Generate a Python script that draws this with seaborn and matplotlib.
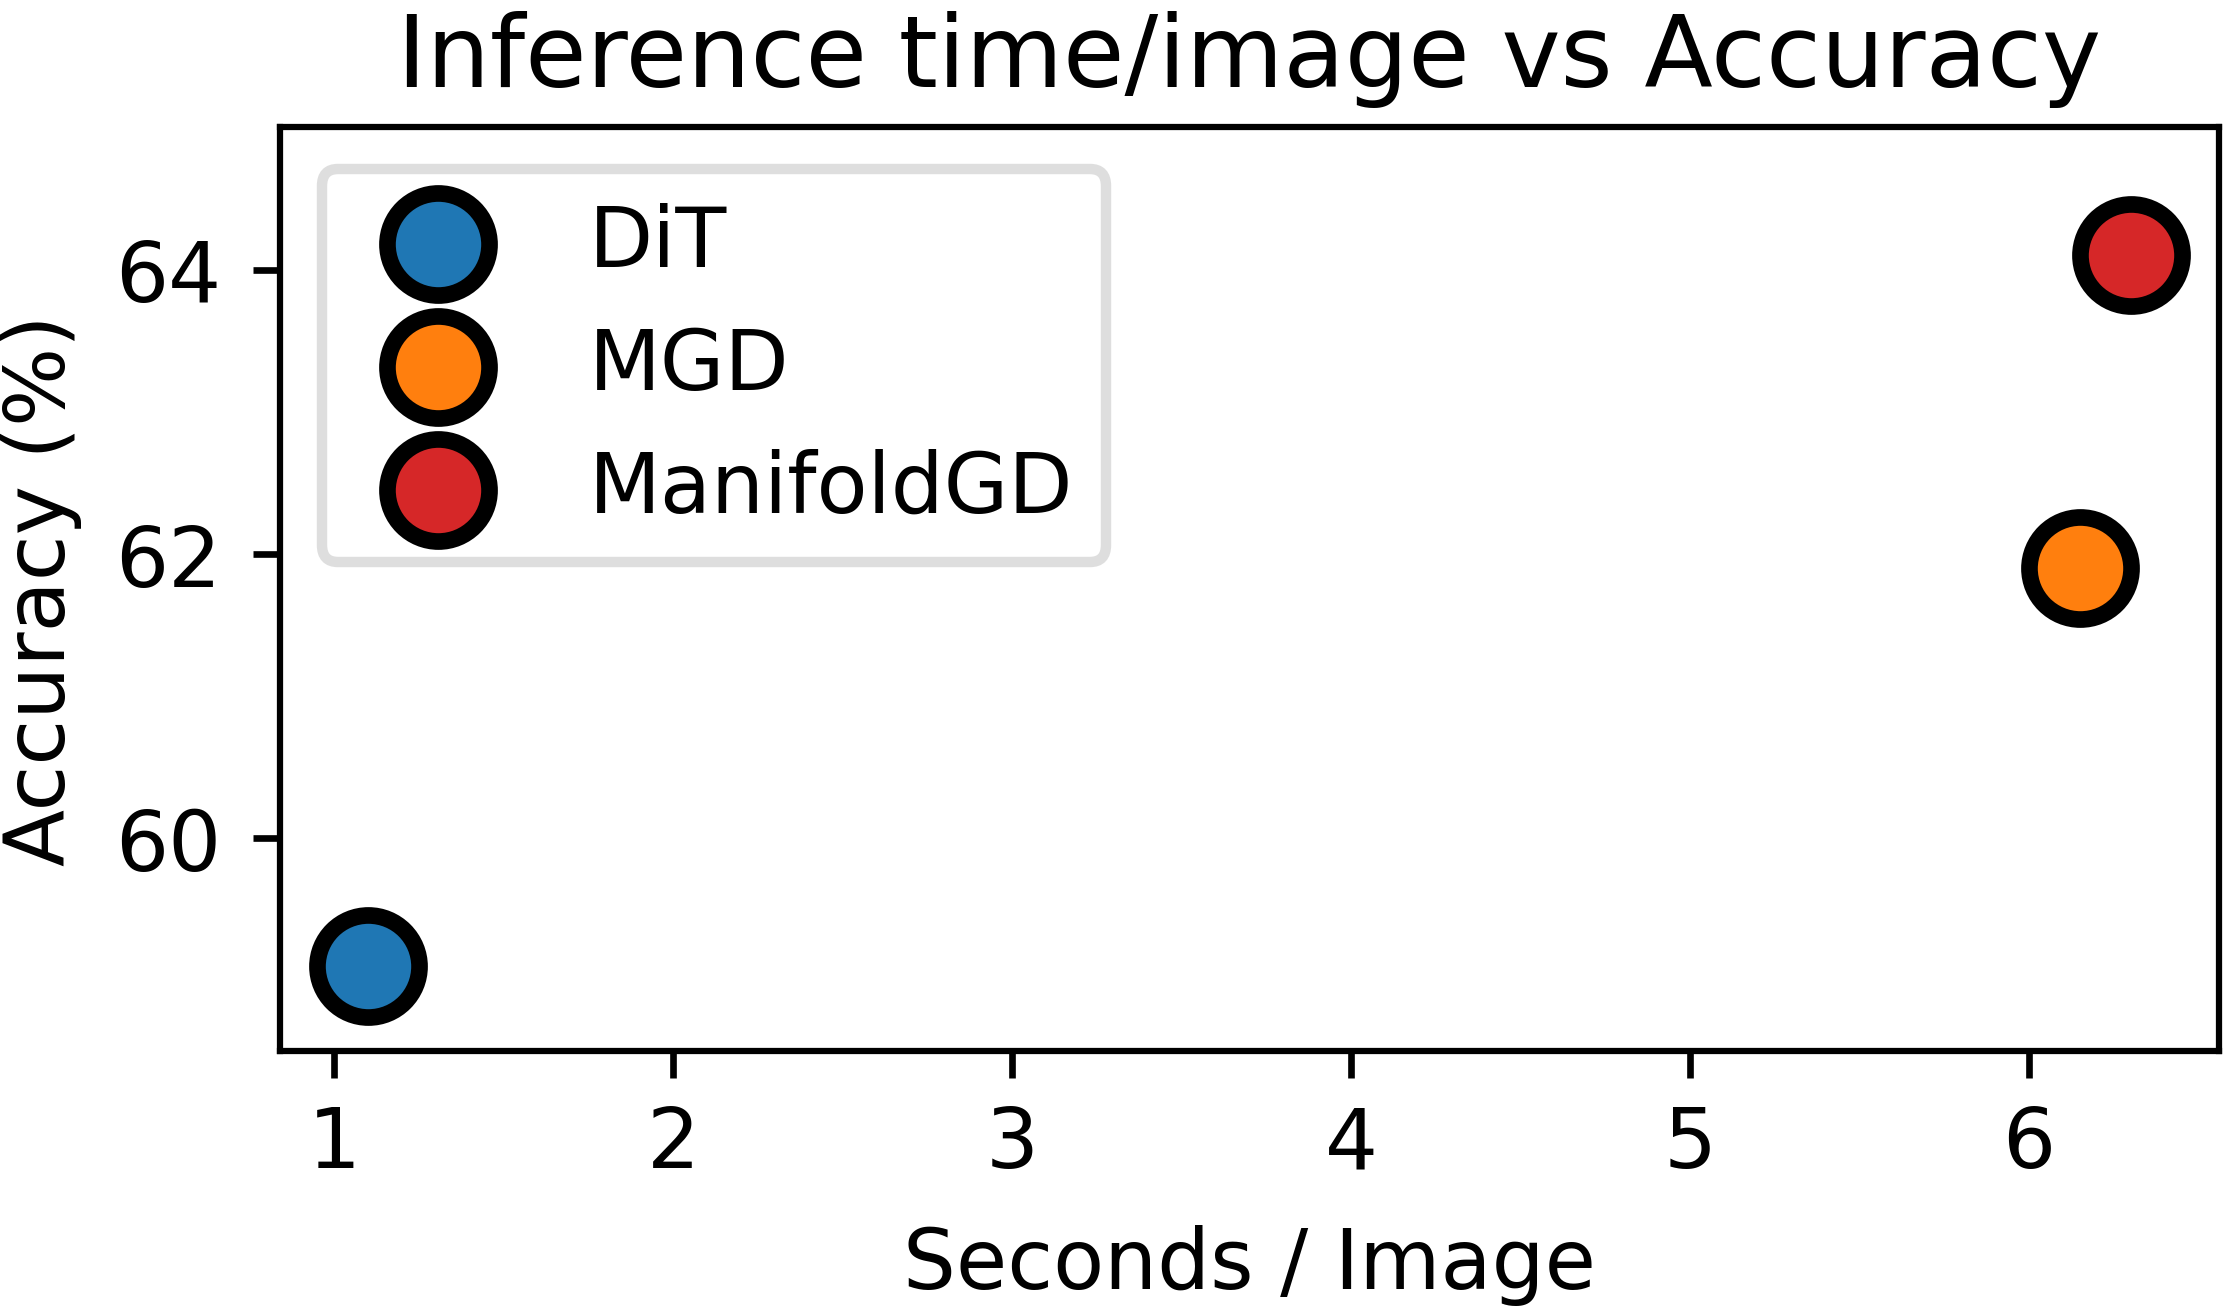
import matplotlib
matplotlib.use("Agg")
import matplotlib.pyplot as plt
import seaborn as sns
import pandas as pd

methods = ["DiT", "MGD", "ManifoldGD"]
seconds = [1.10, 6.15, 6.30]
accuracy = [59.1, 61.9, 64.1]
colors = ["#1f77b4", "#ff7f0e", "#d62728"]

df = pd.DataFrame({"method": methods, "seconds": seconds, "accuracy": accuracy})

sns.set_style("ticks", {"text.color": "black", "axes.labelcolor": "black",
                        "xtick.color": "black", "ytick.color": "black",
                        "axes.edgecolor": "black"})
plt.rcParams['font.family'] = ['DejaVu Sans']

fig, ax = plt.subplots(figsize=(7.433, 4.363), dpi=300)
fig.subplots_adjust(left=0.1256, right=0.995, top=0.902, bottom=0.196)

# one call per method so legend handles keep the marker size
for m, c in zip(methods, colors):
    sns.scatterplot(data=df[df.method == m], x="seconds", y="accuracy", color=c,
                    s=600, edgecolor="black", linewidth=4, label=m, ax=ax, zorder=3)

ax.set_ylim(58.5, 65)
ax.set_yticks([60, 62, 64])
ax.set_xticks([1, 2, 3, 4, 5, 6])
ax.tick_params(labelsize=20, width=1.6, length=6.5, pad=6, colors="black")
ax.tick_params(axis="y", pad=7.5)
for sp in ax.spines.values():
    sp.set_linewidth(1.5)
    sp.set_color("black")

ax.set_xlabel("Seconds / Image", fontsize=20, labelpad=9.5)
ax.set_ylabel("Accuracy (%)", fontsize=20, labelpad=8)
ax.set_title("Inference time/image vs Accuracy", fontsize=24, pad=10)

leg = ax.legend(loc="upper left", fontsize=20, labelspacing=0.5, frameon=True,
                fancybox=True)
leg.get_frame().set_edgecolor("#d6d6d6")
leg.get_frame().set_linewidth(2.5)

plt.savefig("out.png", dpi=300)
